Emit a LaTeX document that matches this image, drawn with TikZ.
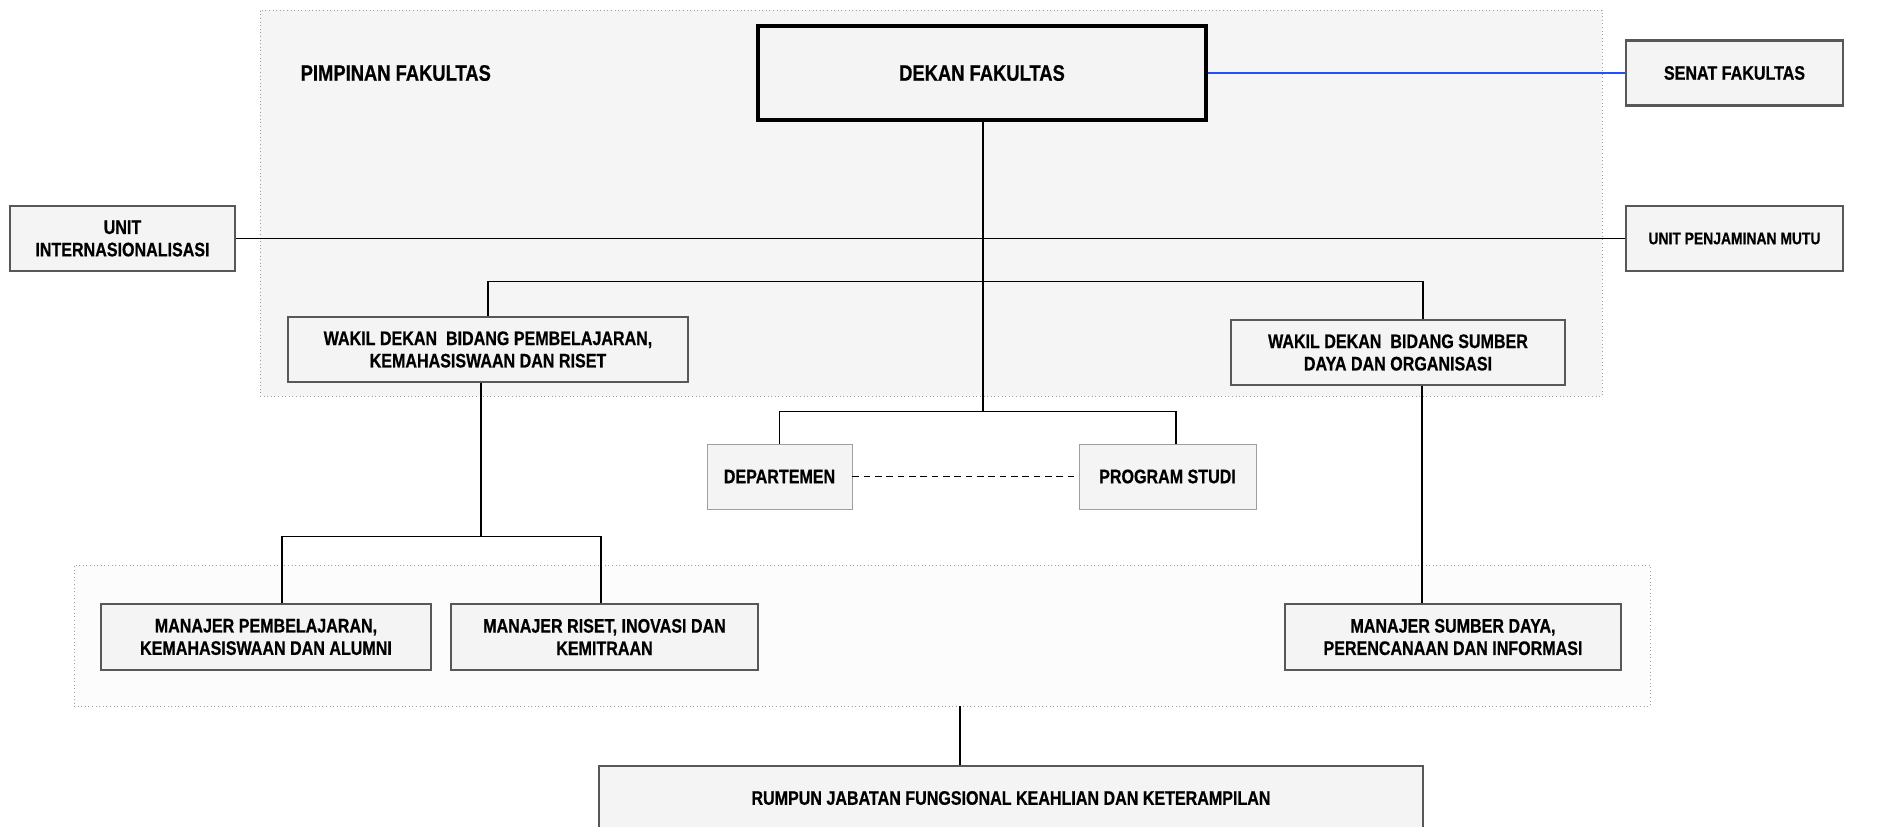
\documentclass[tikz,border=0pt]{standalone}
\usepackage{fontspec}
\newfontfamily\nb{Liberation Sans Bold}[FakeStretch=0.82, FakeBold=0.6]
\usetikzlibrary{calc}
\definecolor{boxfill}{HTML}{F4F4F4}
\definecolor{boxgray}{HTML}{585858}
\definecolor{contfill}{HTML}{F5F5F5}
\definecolor{botfill}{HTML}{FCFCFC}
\definecolor{dotgray}{HTML}{A0A0A0}
\definecolor{linkblue}{HTML}{1F4FFF}
\tikzset{
  sz/.style 2 args={minimum width=#1*0.75pt, minimum height=#2*0.75pt},
  txt/.style={font=\nb\fontsize{14.7}{16.8}\selectfont, align=center, text=black},
  smalltxt/.style={font=\nb\fontsize{12.7}{15}\selectfont, align=center, text=black},
  bigtxt/.style={font=\nb\fontsize{16.8}{19}\selectfont, align=center, text=black},
  orgbox/.style={txt, draw=boxgray, line width=2pt, fill=boxfill, inner sep=0pt},
  headbox/.style={bigtxt, draw=black, line width=2.5pt, fill=boxfill, inner sep=0pt},
  thinbox/.style={txt, draw=gray!75, line width=0.7pt, fill=boxfill, inner sep=0pt},
  container/.style={draw=dotgray, dotted, line width=0.7pt, inner sep=0pt},
  conn/.style={draw=black, line width=1.2pt},
}
\begin{document}
\begin{tikzpicture}[x=0.75pt,y=-0.75pt]
\useasboundingbox (0,0) rectangle (1881,827);
% containers
\node[container, fill=contfill, sz={1342}{386}] (top) at (931,203) {};
\node[container, fill=botfill, sz={1576}{141}] (bot) at (862,635.5) {};
\node[bigtxt, anchor=west] (pimp) at (296,73) {PIMPINAN FAKULTAS};
% nodes
\node[headbox, sz={448}{94}] (dekan) at (982,73) {DEKAN FAKULTAS};
\node[orgbox, sz={217}{65}] (senat) at (1734.5,73) {SENAT FAKULTAS};
\node[orgbox, sz={225}{65}] (uint) at (122.5,238.5) {UNIT\\INTERNASIONALISASI};
\node[orgbox, smalltxt, sz={217}{65}] (upm) at (1734.5,238.5) {UNIT PENJAMINAN MUTU};
\node[orgbox, sz={400}{65}] (wk1) at (488,349.5) {WAKIL DEKAN~ BIDANG PEMBELAJARAN,\\KEMAHASISWAAN DAN RISET};
\node[orgbox, sz={334}{65}] (wk2) at (1398,352.5) {WAKIL DEKAN~ BIDANG SUMBER\\DAYA DAN ORGANISASI};
\node[thinbox, sz={145}{65}] (dept) at (779.5,476.5) {DEPARTEMEN};
\node[thinbox, sz={177}{65}] (prodi) at (1167.5,476.5) {PROGRAM STUDI};
\node[orgbox, sz={330}{66}] (m1) at (266,637) {MANAJER PEMBELAJARAN,\\KEMAHASISWAAN DAN ALUMNI};
\node[orgbox, sz={307}{66}] (m2) at (604.5,637) {MANAJER RISET, INOVASI DAN\\KEMITRAAN};
\node[orgbox, sz={336}{66}] (m3) at (1453,637) {MANAJER SUMBER DAYA,\\PERENCANAAN DAN INFORMASI};
\node[orgbox, sz={824}{64}] (rumpun) at (1011,798) {RUMPUN JABATAN FUNGSIONAL KEAHLIAN DAN KETERAMPILAN};
% junction coordinates
\coordinate (jd) at ($(dekan.south)+(1,290)$);
\coordinate (w2t) at ($(wk2.north)+(25,0)$);
\coordinate (pt) at ($(prodi.north)+(8.5,0)$);
\coordinate (w1b) at ($(wk1.south)+(-7,0)$);
\coordinate (m1t) at ($(m1.north)+(16,0)$);
\coordinate (m2t) at ($(m2.north)+(-3.5,0)$);
\coordinate (w2b) at ($(wk2.south)+(24,0)$);
\coordinate (rj) at ($(rumpun.north)+(-51,0)$);
% connectors
\draw[draw=linkblue, line width=1.4pt] (dekan.east) -- (senat.west);
\draw[conn] (uint.east) -- (upm.west);
\draw[conn] ($(dekan.south)+(1,0)$) -- (jd);
\draw[conn] (wk1.north) -- ++(0,-34) -| (w2t);
\draw[conn] (dept.north) |- (jd) -| (pt);
\draw[conn, line width=1.3pt, dash pattern=on 5pt off 3.5pt] (dept.east) -- (prodi.west);
\draw[conn] (w1b) -- ++(0,153) coordinate (w1j);
\draw[conn] (m1t) |- (w1j) -| (m2t);
\draw[conn] (w2b) -- (w2b |- m3.north);
\draw[conn] (rj) -- (rj |- bot.south);
\end{tikzpicture}
\end{document}
